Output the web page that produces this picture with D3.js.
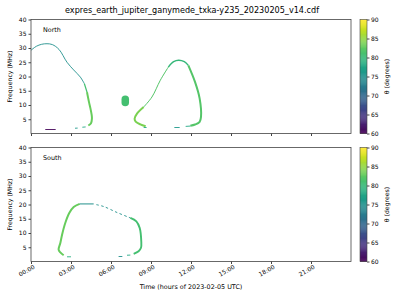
<!DOCTYPE html>
<html>
<head>
<meta charset="utf-8">
<script src="https://cdn.jsdelivr.net/npm/d3@7"></script>
<style>
  body { margin: 0; background: #fff; }
  svg { font-family: "DejaVu Sans", sans-serif; }
</style>
</head>
<body>
<svg width="400" height="300"></svg>
<script>
// data: [hour, MHz] points, theta in degrees per segment
const TITLE = 'expres_earth_jupiter_ganymede_txka-y235_20230205_v14.cdf';
const HOUR_TICKS = [0, 3, 6, 9, 12, 15, 18, 21];
const FREQ_TICKS = [5, 10, 15, 20, 25, 30, 35, 40];
const THETA_TICKS = [60, 65, 70, 75, 80, 85, 90];

const northSegments = [
  { theta: 75, w: 0.9, pts: [[0,29.2],[0.4,30.6],[0.8,31.3],[1.2,31.5],[1.6,31.2],[2.1,29.5],[2.7,25],[3.2,22.3],[3.7,19.8],[4.0,17.5]] },
  { theta: 81, w: 1.3, pts: [[4.0,17.5],[4.2,14.5]] },
  { theta: 83, w: 2.0, pts: [[4.2,14.5],[4.35,11],[4.45,9],[4.55,6.5],[4.57,5.2],[4.5,3.6],[4.3,2.8]] },
  { theta: 78, w: 0.9, pts: [[3.85,2.2],[4.1,2.3]] },
  { theta: 76, w: 0.9, pts: [[3.3,1.85],[3.5,1.9]] },
  { theta: 60.5, w: 0.9, pts: [[1.07,1.4],[1.85,1.4]] },
  { theta: 81, w: 7.5, pts: [[7.07,12.0],[7.07,10.9]] },
  { theta: 84, w: 2.0, pts: [[8.6,2.55],[8.2,3.2],[7.85,4.2],[7.77,5.2],[7.95,7],[8.45,9.3]] },
  { theta: 82, w: 1.0, pts: [[8.45,9.3],[9.07,12.8],[9.7,18.7],[10.3,23.3]] },
  { theta: 80, w: 1.5, pts: [[10.3,23.3],[10.7,25.2],[11.07,25.7],[11.5,25.2],[11.8,23.9]] },
  { theta: 82, w: 2.0, pts: [[11.8,23.9],[12.3,18.1],[12.65,12.25],[12.75,5.8],[12.65,4.1],[12.3,3.15],[11.95,2.7]] },
  { theta: 78, w: 0.9, pts: [[8.45,2.1],[8.67,2.1]] },
  { theta: 76, w: 0.9, pts: [[10.75,2.1],[11.15,2.1]] },
  { theta: 78, w: 0.9, pts: [[11.6,2.5],[11.95,2.6]] }
];

const southSegments = [
  { theta: 79, w: 0.9, pts: [[2.7,1.65],[3.0,1.65]] },
  { theta: 83, w: 2.0, pts: [[2.45,2.2],[2.2,3.2],[2.07,4.2],[2.2,6.5],[2.33,9.4],[2.57,13.5],[2.87,17],[3.2,19.1],[3.65,20.2]] },
  { theta: 75, w: 1.0, pts: [[3.65,20.2],[4.7,20.2]] },
  { theta: 75, w: 0.9, dash: '2.5,2.5', pts: [[4.9,19.95],[5.45,19.3],[6.45,17.2],[7.45,15.3]] },
  { theta: 81, w: 1.9, pts: [[7.45,15.3],[7.9,14.1],[8.15,11.8],[8.27,7.1],[8.25,4.8],[8.07,3.6],[7.7,2.7]] },
  { theta: 78, w: 0.9, pts: [[7.2,2.2],[7.45,2.25]] },
  { theta: 75, w: 0.9, pts: [[6.57,1.75],[6.85,1.75]] }
];

const panels = [
  { name: 'North', top: 19.5, segs: northSegments },
  { name: 'South', top: 147.5, segs: southSegments }
];

const LEFT = 31, RIGHT = 351, PH = 114;
const CB = { x: 360, w: 7 };
const frame = '#444';
const ink = '#000';

const svg = d3.select('svg');
const x = d3.scaleLinear().domain([0, 24]).range([LEFT, RIGHT]);
const color = t => d3.interpolateViridis((t - 60) / 30);

svg.append('text')
  .attr('x', 192).attr('y', 13)
  .attr('text-anchor', 'middle').attr('font-size', 8.1).attr('fill', ink)
  .text(TITLE);

panels.forEach((p, i) => {
  const y = d3.scaleLinear().domain([0, 40]).range([p.top + PH, p.top]);
  const g = svg.append('g');

  const line = d3.line().x(d => x(d[0])).y(d => y(d[1])).curve(d3.curveCatmullRom);
  g.selectAll('.seg').data(p.segs).enter().append('path')
    .attr('d', d => line(d.pts))
    .attr('fill', 'none')
    .attr('stroke', d => color(d.theta))
    .attr('stroke-width', d => d.w)
    .attr('stroke-dasharray', d => d.dash || null)
    .attr('stroke-linecap', d => d.w > 5 ? 'round' : 'butt');

  g.append('rect')
    .attr('x', LEFT).attr('y', p.top).attr('width', RIGHT - LEFT).attr('height', PH)
    .attr('fill', 'none').attr('stroke', frame).attr('stroke-width', 0.8);

  const ya = g.append('g').attr('transform', `translate(${LEFT},0)`)
    .call(d3.axisLeft(y).tickValues(FREQ_TICKS).tickSize(2.5).tickPadding(2));
  ya.select('.domain').remove();
  ya.selectAll('line').attr('stroke', frame);
  ya.selectAll('text').attr('font-size', 6).attr('font-family', '"DejaVu Sans", sans-serif').attr('fill', ink);

  const xa = g.append('g').attr('transform', `translate(0,${p.top + PH})`)
    .call(d3.axisBottom(x).tickValues(HOUR_TICKS).tickSize(2.5)
      .tickFormat(i === 1 ? (h => d3.format('02d')(h) + ':00') : () => ''));
  xa.select('.domain').remove();
  xa.selectAll('line').attr('stroke', frame);
  if (i === 1) {
    xa.selectAll('text')
      .attr('font-size', 6).attr('font-family', '"DejaVu Sans", sans-serif').attr('fill', ink)
      .attr('text-anchor', 'end')
      .attr('dy', '0.6em').attr('y', 4)
      .attr('transform', 'rotate(-30)');
  }

  g.append('text')
    .attr('transform', `translate(12,${p.top + PH / 2}) rotate(-90)`)
    .attr('text-anchor', 'middle').attr('font-size', 6.2).attr('fill', ink)
    .text('Frequency (MHz)');

  g.append('text')
    .attr('x', 43).attr('y', p.top + 12)
    .attr('font-size', 6.4).attr('fill', ink)
    .text(p.name);

  // colorbar
  const cy = d3.scaleLinear().domain([60, 90]).range([p.top + PH, p.top]);
  const steps = d3.range(60, 90, 0.25);
  g.selectAll('.cb').data(steps).enter().append('rect')
    .attr('x', CB.x).attr('width', CB.w)
    .attr('y', d => cy(d + 0.25)).attr('height', d => cy(d) - cy(d + 0.25) + 0.3)
    .attr('fill', d => color(d + 0.125));
  g.append('rect')
    .attr('x', CB.x).attr('y', p.top).attr('width', CB.w).attr('height', PH)
    .attr('fill', 'none').attr('stroke', frame).attr('stroke-width', 0.6);
  const ca = g.append('g').attr('transform', `translate(${CB.x + CB.w},0)`)
    .call(d3.axisRight(cy).tickValues(THETA_TICKS).tickSize(2.5).tickPadding(1.5));
  ca.select('.domain').remove();
  ca.selectAll('line').attr('stroke', frame);
  ca.selectAll('text').attr('font-size', 6).attr('font-family', '"DejaVu Sans", sans-serif').attr('fill', ink);

  g.append('text')
    .attr('transform', `translate(389,${p.top + PH / 2}) rotate(-90)`)
    .attr('text-anchor', 'middle').attr('font-size', 6.2).attr('fill', ink)
    .text('θ (degrees)');
});

svg.append('text')
  .attr('x', (LEFT + RIGHT) / 2).attr('y', 289)
  .attr('text-anchor', 'middle').attr('font-size', 6.4).attr('fill', ink)
  .text('Time (hours of 2023-02-05 UTC)');
</script>
</body>
</html>
